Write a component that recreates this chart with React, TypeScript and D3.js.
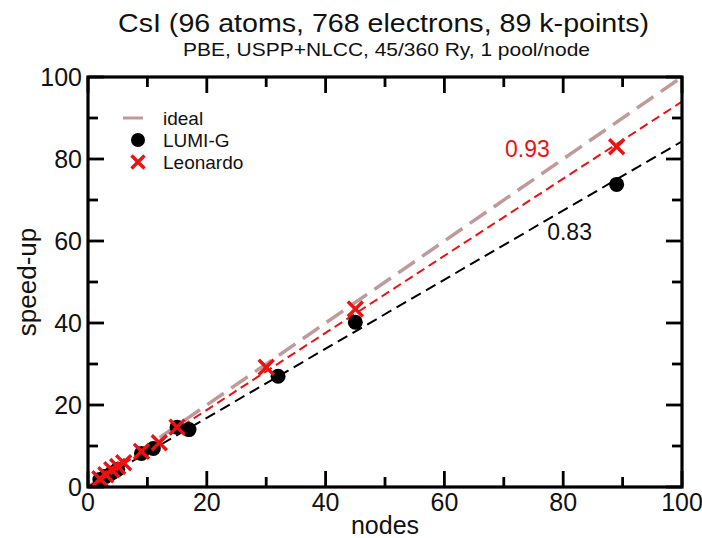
import React from "react";
import * as d3 from "d3";

const W = 702;
const H = 538;

const titleText = "CsI (96 atoms, 768 electrons, 89 k-points)";
const subtitleText = "PBE, USPP+NLCC, 45/360 Ry, 1 pool/node";
const xLabel = "nodes";
const yLabel = "speed-up";

const xTicks = [0, 20, 40, 60, 80, 100];
const yTicks = [0, 20, 40, 60, 80, 100];
const minorTicks = [10, 30, 50, 70, 90];

const lumiNodes = [2, 3, 4, 5, 9, 11, 15, 17, 32, 45, 89];
const lumiSpeedup = [1.8, 2.6, 3.4, 4.3, 8.2, 9.4, 14.6, 14.0, 27.0, 40.2, 73.8];

const leoNodes = [2, 3, 4, 5, 6, 9, 12, 15, 30, 45, 89];
const leoSpeedup = [2.0, 3.0, 4.2, 5.0, 5.9, 8.7, 10.8, 14.6, 29.2, 43.4, 83.0];

const idealLine = [0, 100];
const fitNames = ["LUMI-G", "Leonardo"];
const fitSlopes = [0.843, 0.94];
const fitLabels = ["0.83", "0.93"];
const fitLabelPos = [
  [77.3, 60.2],
  [70.2, 80.5],
];

const FONT = "'Liberation Sans', Arial, Helvetica, sans-serif";

export default function App() {
  const left = 88, right = 682, top = 77, bottom = 487;
  const x = d3.scaleLinear().domain([0, 100]).range([left, right]);
  const y = d3.scaleLinear().domain([0, 100]).range([bottom, top]);
  const line = d3.line<[number, number]>().x((d) => x(d[0])).y((d) => y(d[1]));

  const idealPath = line(idealLine.map((v) => [v, v] as [number, number]));
  const fitPaths = fitSlopes.map((s) =>
    line([0, 100].map((v) => [v, v * s] as [number, number]))
  );

  const majorLen = 16;
  const minorLen = 10;
  const tickW = 2.8;
  const red = "#ee1111";
  const idealColor = "#c09a9a";

  const xMark = (cx: number, cy: number, key: string, r = 7.5) => (
    <g key={key} stroke={red} strokeWidth={3.4} strokeLinecap="butt">
      <line x1={cx - r} y1={cy - r} x2={cx + r} y2={cy + r} />
      <line x1={cx - r} y1={cy + r} x2={cx + r} y2={cy - r} />
    </g>
  );

  return (
    <svg
      width={W}
      height={H}
      style={{ position: "absolute", left: 0, top: 0, background: "#fff" }}
      fontFamily={FONT}
    >
      <rect width={W} height={H} fill="#fff" />
      {/* title */}
      <text
        x={118}
        y={32}
        fontSize={25.5}
        fill="#111"
        textLength={531}
        lengthAdjust="spacingAndGlyphs"
      >
        {titleText}
      </text>
      <text
        x={183}
        y={56}
        fontSize={19}
        fill="#111"
        textLength={407}
        lengthAdjust="spacingAndGlyphs"
      >
        {subtitleText}
      </text>

      {/* lines */}
      <path
        d={idealPath || ""}
        fill="none"
        stroke={idealColor}
        strokeWidth={3.5}
        strokeDasharray="20,9"
      />
      <path
        d={fitPaths[1] || ""}
        fill="none"
        stroke={red}
        strokeWidth={2}
        strokeDasharray="9,5"
      />
      <path
        d={fitPaths[0] || ""}
        fill="none"
        stroke="#000"
        strokeWidth={2}
        strokeDasharray="11,6"
      />

      {/* LUMI-G points */}
      {lumiNodes.map((n, i) => (
        <circle key={"l" + i} cx={x(n)} cy={y(lumiSpeedup[i])} r={7.5} fill="#000" />
      ))}
      {/* Leonardo points */}
      {leoNodes.map((n, i) => xMark(x(n), y(leoSpeedup[i]), "r" + i))}

      {/* fit labels */}
      {fitLabels.map((t, i) => (
        <text
          key={t}
          x={x(fitLabelPos[i][0])}
          y={y(fitLabelPos[i][1])}
          fontSize={23}
          fill={i === 1 ? red : "#111"}
        >
          {t}
        </text>
      ))}

      {/* legend */}
      <line x1={123} x2={143} y1={118} y2={118} stroke={idealColor} strokeWidth={3} />
      <text x={163} y={125} fontSize={19} fill="#111">ideal</text>
      <circle cx={138} cy={140} r={7} fill="#000" />
      <text x={163} y={147} fontSize={19} fill="#111">{fitNames[0]}</text>
      {xMark(138, 162, "legx", 6.5)}
      <text x={163} y={169} fontSize={19} fill="#111">{fitNames[1]}</text>

      {/* frame */}
      <rect
        x={left}
        y={top}
        width={right - left}
        height={bottom - top}
        fill="none"
        stroke="#000"
        strokeWidth={3.2}
      />
      {/* ticks */}
      <g stroke="#000" strokeWidth={tickW}>
        {xTicks.map((t) => (
          <g key={"xt" + t}>
            <line x1={x(t)} x2={x(t)} y1={bottom} y2={bottom - majorLen} />
            <line x1={x(t)} x2={x(t)} y1={top} y2={top + majorLen} />
          </g>
        ))}
        {minorTicks.map((t) => (
          <g key={"xm" + t}>
            <line x1={x(t)} x2={x(t)} y1={bottom} y2={bottom - minorLen} />
            <line x1={x(t)} x2={x(t)} y1={top} y2={top + minorLen} />
          </g>
        ))}
        {yTicks.map((t) => (
          <g key={"yt" + t}>
            <line x1={left} x2={left + majorLen} y1={y(t)} y2={y(t)} />
            <line x1={right} x2={right - majorLen} y1={y(t)} y2={y(t)} />
          </g>
        ))}
        {minorTicks.map((t) => (
          <g key={"ym" + t}>
            <line x1={left} x2={left + minorLen} y1={y(t)} y2={y(t)} />
            <line x1={right} x2={right - minorLen} y1={y(t)} y2={y(t)} />
          </g>
        ))}
      </g>

      {/* tick labels */}
      {xTicks.map((t) => (
        <text key={"xl" + t} x={x(t)} y={bottom + 24} textAnchor="middle" fontSize={25} fill="#111">
          {t}
        </text>
      ))}
      {yTicks.map((t) => (
        <text key={"yl" + t} x={left - 6} y={y(t) + 8.5} textAnchor="end" fontSize={25} fill="#111">
          {t}
        </text>
      ))}

      {/* axis labels */}
      <text x={385} y={534} textAnchor="middle" fontSize={25} fill="#111">
        {xLabel}
      </text>
      <text
        transform={`translate(36,${(top + bottom) / 2}) rotate(-90)`}
        textAnchor="middle"
        fontSize={26}
        fill="#111"
      >
        {yLabel}
      </text>
    </svg>
  );
}
